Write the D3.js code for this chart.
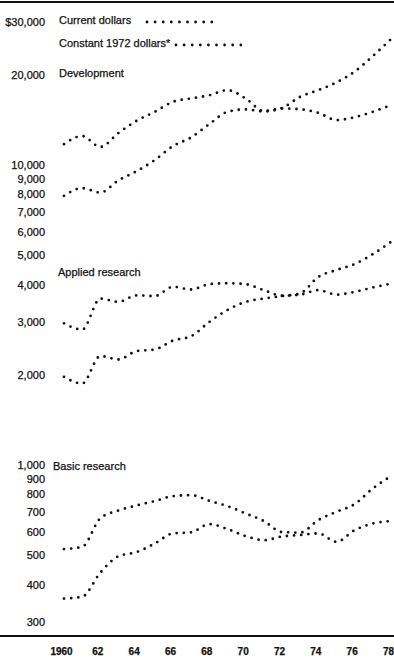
<!DOCTYPE html>
<html>
<head>
<meta charset="utf-8">
<script src="https://cdn.jsdelivr.net/npm/d3@7"></script>
<style>
  body { margin: 0; background: #fff; }
  text { font-family: "Liberation Sans", Arial, sans-serif; fill: #111; stroke: #111; stroke-width: 0.25px; }
</style>
</head>
<body>
<script>
// R&D spending by type, millions of dollars (log scale)
var years = [1960, 1961, 1962, 1963, 1964, 1965, 1966, 1967, 1968, 1969,
             1970, 1971, 1972, 1973, 1974, 1975, 1976, 1977, 1978];

var devCurrent  = [7900, 8380, 8100, 8900, 9550, 10400, 11570, 12370, 13700, 15060,
                   15340, 15100, 15500, 16890, 17780, 18870, 20500, 23100, 26300];
var devConstant = [11750, 12500, 11500, 12800, 14060, 15060, 16260, 16680, 17100, 17780,
                   16680, 15140, 15450, 15350, 14940, 14130, 14450, 15060, 15850];

var appCurrent  = [1970, 1870, 2310, 2250, 2400, 2430, 2600, 2690, 3000, 3290,
                   3500, 3590, 3660, 3735, 4240, 4470, 4680, 5050, 5550];
var appConstant = [2970, 2830, 3590, 3500, 3680, 3660, 3930, 3850, 4010, 4040,
                   4010, 3830, 3670, 3700, 3830, 3700, 3780, 3910, 4030];

var basicCurrent  = [525, 534, 665, 706, 734, 759, 788, 794, 760, 730,
                     690, 651, 598, 596, 656, 699, 741, 836, 919];
var basicConstant = [359, 364, 438, 497, 513, 548, 592, 597, 636, 612,
                     580, 562, 578, 585, 592, 555, 607, 639, 651];

var yTicks = [30000, 20000, 10000, 9000, 8000, 7000, 6000, 5000, 4000, 3000, 2000,
              1000, 900, 800, 700, 600, 500, 400, 300];
var xTicks = [1960, 1962, 1964, 1966, 1968, 1970, 1972, 1974, 1976, 1978];

var width = 394, height = 659;

var svg = d3.select("body").append("svg")
    .attr("width", width)
    .attr("height", height);

var x = d3.scaleLinear().domain([1960, 1978]).range([64, 391]);
var y = d3.scaleLog().domain([300, 30000]).range([622, 22]);

// frame lines
svg.append("line")
    .attr("x1", 0).attr("x2", width)
    .attr("y1", 2).attr("y2", 2)
    .attr("stroke", "#111").attr("stroke-width", 2);
svg.append("line")
    .attr("x1", 0).attr("x2", width)
    .attr("y1", 636).attr("y2", 636)
    .attr("stroke", "#111").attr("stroke-width", 2);

// y axis labels
var fmt = d3.format(",");
var yAxis = d3.axisLeft(y)
    .tickValues(yTicks)
    .tickSize(0)
    .tickPadding(0)
    .tickFormat(d => d == 30000 ? "$" + fmt(d) : fmt(d));
var gy = svg.append("g")
    .attr("transform", "translate(45,0)")
    .call(yAxis);
gy.select(".domain").remove();
gy.selectAll("text")
    .attr("font-size", 11)
    .attr("font-family", "'Liberation Sans', Arial, sans-serif")
    .attr("fill", "#111");

// x axis labels
var xAxis = d3.axisBottom(x)
    .tickValues(xTicks)
    .tickSize(0)
    .tickPadding(0)
    .tickFormat(d => d == 1960 ? "1960" : String(d).slice(2));
var gx = svg.append("g")
    .attr("transform", "translate(-3,648)")
    .call(xAxis);
gx.select(".domain").remove();
gx.selectAll("text")
    .attr("font-size", 10)
    .attr("font-weight", "bold")
    .attr("font-family", "'Liberation Sans', Arial, sans-serif")
    .attr("fill", "#111");

// dotted series
var line = d3.line()
    .x((d, i) => x(years[i]))
    .y(d => y(d))
    .curve(d3.curveMonotoneX);

var series = [devCurrent, devConstant, appCurrent, appConstant, basicCurrent, basicConstant];

svg.selectAll("path.series")
    .data(series)
    .enter()
    .append("path")
    .attr("class", "series")
    .attr("d", d => line(d))
    .attr("fill", "none")
    .attr("stroke", "#111")
    .attr("stroke-width", 2.8)
    .attr("stroke-linecap", "round")
    .attr("stroke-dasharray", "0 7.2");

// legend
var legend = [
  {label: "Current dollars", ty: 20, x1: 147, x2: 212},
  {label: "Constant 1972 dollars*", ty: 43, x1: 176, x2: 241}
];
legend.forEach(l => {
  svg.append("text")
      .attr("x", 59).attr("y", l.ty)
      .attr("dy", "0.35em")
      .attr("font-size", 11)
      .text(l.label);
  svg.append("line")
      .attr("x1", l.x1).attr("x2", l.x2)
      .attr("y1", l.ty + 2).attr("y2", l.ty + 2)
      .attr("stroke", "#111")
      .attr("stroke-width", 2.8)
      .attr("stroke-linecap", "round")
      .attr("stroke-dasharray", "0 8.1");
});

// panel titles
var titles = [
  {label: "Development", x: 59, y: 73},
  {label: "Applied research", x: 58, y: 272},
  {label: "Basic research", x: 53, y: 466}
];
svg.selectAll("text.title")
    .data(titles)
    .enter()
    .append("text")
    .attr("class", "title")
    .attr("x", d => d.x)
    .attr("y", d => d.y)
    .attr("dy", "0.35em")
    .attr("font-size", 11)
    .text(d => d.label);
</script>
</body>
</html>
